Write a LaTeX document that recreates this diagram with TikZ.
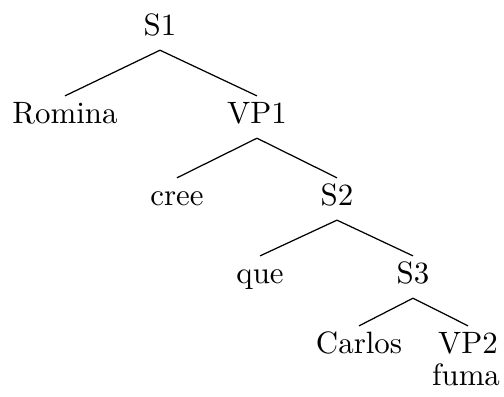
\documentclass[tikz,border=0pt]{standalone}
\usepackage{amsmath, amssymb}
\usepackage{tikz}
\usetikzlibrary{calc,positioning}

\begin{document}
\begin{tikzpicture}[tnode/.style={anchor=base,inner sep=0pt,text height=8.6pt,text depth=4.7pt}]
          \useasboundingbox (0,0) rectangle (5.733,4.505);
          % the nodes of the tree
          \node[tnode] (S1) at (1.820,4.106) {S1};
          \node[tnode] (Romina) at (0.739,3.105) {Romina};
          \node[tnode] (VP1) at (2.923,3.105) {VP1};
          \node[tnode] (cree) at (2.013,2.173) {cree};
          \node[tnode] (S2) at (3.833,2.173) {S2};
          \node[tnode] (que) at (2.958,1.285) {que};
          \node[tnode] (S3) at (4.698,1.285) {S3};
          \node[tnode] (Carlos) at (4.084,0.489) {Carlos};
          \node[tnode] (VP2) at (5.324,0.489) {VP2};
          \node[anchor=base,inner sep=0pt] (fuma) at (5.301,0.125) {fuma};
          % branches
          \draw (S1.south) -- (Romina.north);
          \draw (S1.south) -- (VP1.north);
          \draw (VP1.south) -- (cree.north);
          \draw (VP1.south) -- (S2.north);
          \draw (S2.south) -- (que.north);
          \draw (S2.south) -- (S3.north);
          \draw (S3.south) -- (Carlos.north);
          \draw (S3.south) -- (VP2.north);
        \end{tikzpicture}
\end{document}
